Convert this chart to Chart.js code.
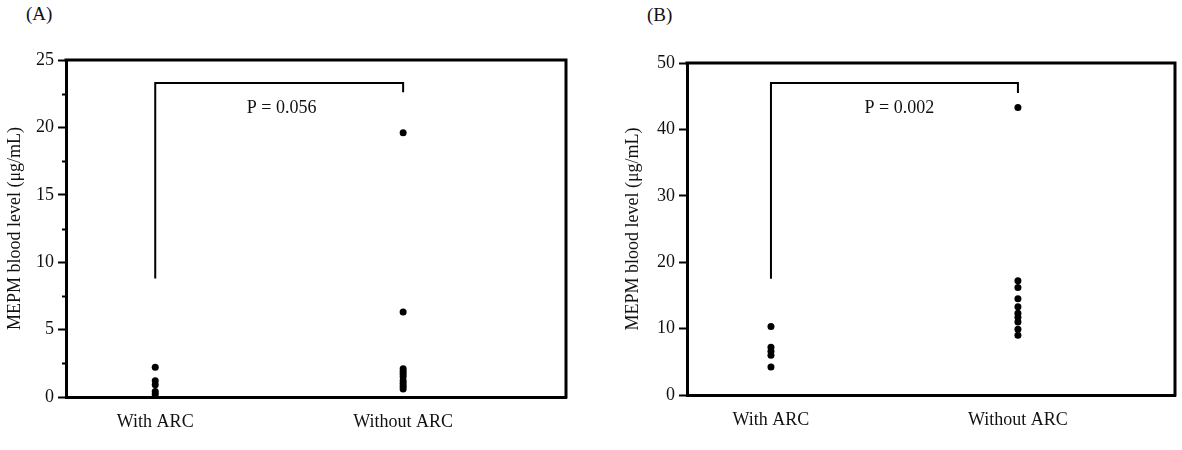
<!DOCTYPE html>
<html>
<head>
<meta charset="utf-8">
<script src="https://cdn.jsdelivr.net/npm/chart.js@4.4.1/dist/chart.umd.min.js"></script>
<style>
    body { margin: 0; background: #fff; }
    #wrap { position: relative; width: 1182px; height: 450px; font-family: "Liberation Serif", serif; }
    .panel-label { position: absolute; font-size: 19px; color: #111; }
    canvas { position: absolute; top: 0; }
</style>
</head>
<body>
<div id="wrap">
    <div class="panel-label" style="left:26px; top:3px;">(A)</div>
    <div class="panel-label" style="left:647px; top:4px;">(B)</div>
    <canvas id="chartA" width="590" height="450" style="left:0;"></canvas>
    <canvas id="chartB" width="582" height="450" style="left:600px;"></canvas>
</div>
<script>
// categories (x = 0 and x = 1 on a linear axis)
const categories = ['With ARC', 'Without ARC'];

// panel A values (µg/mL)
const aWithARC = [2.2, 1.2, 0.9, 0.4, 0.2];
const aWithoutARC = [19.6, 6.3, 2.1, 1.9, 1.7, 1.5, 1.2, 1.0, 0.8, 0.6];
const aBracket = [8.8, 23.3, 23.3, 22.6];
const aTicks = [0, 5, 10, 15, 20, 25];
const aPText = 'P = 0.056';

// panel B values (µg/mL)
const bWithARC = [10.3, 7.2, 6.6, 6.0, 4.2];
const bWithoutARC = [43.3, 17.2, 16.2, 14.5, 13.3, 12.3, 11.7, 11.0, 9.9, 9.0];
const bBracket = [17.5, 47.0, 47.0, 45.5];
const bTicks = [0, 10, 20, 30, 40, 50];
const bPText = 'P = 0.002';

const FONT = '"Liberation Serif", "Times New Roman", serif';

// draws top/right frame, minor ticks and the P-value text
const framePlugin = {
    id: 'frame',
    afterDraw(chart, args, opts) {
        const ctx = chart.ctx;
        const area = chart.chartArea;
        const y = chart.scales.y;
        const x = chart.scales.x;
        ctx.save();
        ctx.strokeStyle = '#000';
        ctx.lineWidth = 3;
        ctx.beginPath();
        ctx.moveTo(area.left - 1.5, area.top);
        ctx.lineTo(area.right, area.top);
        ctx.lineTo(area.right, area.bottom + 1.5);
        ctx.stroke();

        if (opts.minorStep) {
            ctx.lineWidth = 2;
            for (let v = opts.minorStep; v < y.max; v += opts.minorStep * 2) {
                const py = Math.round(y.getPixelForValue(v)) + 0.5;
                ctx.beginPath();
                ctx.moveTo(area.left - 4, py);
                ctx.lineTo(area.left, py);
                ctx.stroke();
            }
        }

        if (opts.text) {
            ctx.fillStyle = '#111';
            ctx.font = '18px ' + FONT;
            ctx.textAlign = 'center';
            ctx.textBaseline = 'middle';
            ctx.fillText(opts.text, x.getPixelForValue(opts.textX), y.getPixelForValue(opts.textY));
        }
        ctx.restore();
    }
};

function makePanel(canvasId, cfg) {
    const ctx = document.getElementById(canvasId);
    if (!ctx) return null;

    const dots = (vals, cat) => vals.map(v => ({ x: cat, y: v }));
    const bracket = [
        { x: 0, y: cfg.bracket[0] },
        { x: 0, y: cfg.bracket[1] },
        { x: 1, y: cfg.bracket[2] },
        { x: 1, y: cfg.bracket[3] }
    ];

    return new Chart(ctx, {
        type: 'scatter',
        data: {
            datasets: [
                {
                    data: bracket,
                    showLine: true,
                    borderColor: '#000',
                    borderWidth: 2,
                    pointRadius: 0,
                    fill: false
                },
                {
                    data: dots(cfg.withARC, 0),
                    backgroundColor: '#000',
                    borderColor: '#000',
                    pointRadius: 3.5,
                    borderWidth: 0
                },
                {
                    data: dots(cfg.withoutARC, 1),
                    backgroundColor: '#000',
                    borderColor: '#000',
                    pointRadius: 3.5,
                    borderWidth: 0
                }
            ]
        },
        options: {
            responsive: false,
            animation: false,
            layout: {
                padding: { left: 0, right: cfg.padRight, top: cfg.padTop, bottom: 0 }
            },
            plugins: {
                legend: { display: false },
                tooltip: { enabled: false },
                frame: {
                    minorStep: cfg.minorStep,
                    text: cfg.pText,
                    textX: cfg.pX,
                    textY: cfg.pY
                }
            },
            scales: {
                x: {
                    type: 'linear',
                    min: cfg.xMin,
                    max: cfg.xMax,
                    afterBuildTicks: s => { s.ticks = [{ value: 0 }, { value: 1 }]; },
                    afterFit: s => { s.height = cfg.xHeight; },
                    grid: { display: false, drawTicks: false },
                    border: { display: true, color: '#000', width: 3 },
                    ticks: {
                        padding: 14,
                        color: '#111',
                        font: { family: FONT, size: 18 },
                        callback: v => categories[v]
                    }
                },
                y: {
                    min: 0,
                    max: cfg.yTicks[cfg.yTicks.length - 1],
                    afterBuildTicks: s => { s.ticks = cfg.yTicks.map(v => ({ value: v })); },
                    afterFit: s => { s.width = cfg.yWidth; },
                    grid: {
                        drawOnChartArea: false,
                        drawTicks: true,
                        tickLength: 8,
                        tickWidth: 2,
                        tickColor: '#000'
                    },
                    border: { display: true, color: '#000', width: 3 },
                    ticks: {
                        padding: 4,
                        color: '#111',
                        font: { family: FONT, size: 18 }
                    },
                    title: {
                        display: true,
                        text: 'MEPM blood level (μg/mL)',
                        color: '#111',
                        font: { family: FONT, size: 18 },
                        padding: { top: cfg.titlePad, bottom: 0 }
                    }
                }
            }
        },
        plugins: [framePlugin]
    });
}

window.chartA = makePanel('chartA', {
    withARC: aWithARC,
    withoutARC: aWithoutARC,
    bracket: aBracket,
    yTicks: aTicks,
    minorStep: 2.5,
    pText: aPText,
    pX: 0.51,
    pY: 21.4,
    xMin: -0.36,
    xMax: 1.657,
    padRight: 24,
    padTop: 60,
    yWidth: 66,
    xHeight: 53,
    titlePad: 4
});

window.chartB = makePanel('chartB', {
    withARC: bWithARC,
    withoutARC: bWithoutARC,
    bracket: bBracket,
    yTicks: bTicks,
    minorStep: null,
    pText: bPText,
    pX: 0.52,
    pY: 43.2,
    xMin: -0.34,
    xMax: 1.636,
    padRight: 7,
    padTop: 63,
    yWidth: 87,
    xHeight: 55,
    titlePad: 22
});
</script>
</body>
</html>
